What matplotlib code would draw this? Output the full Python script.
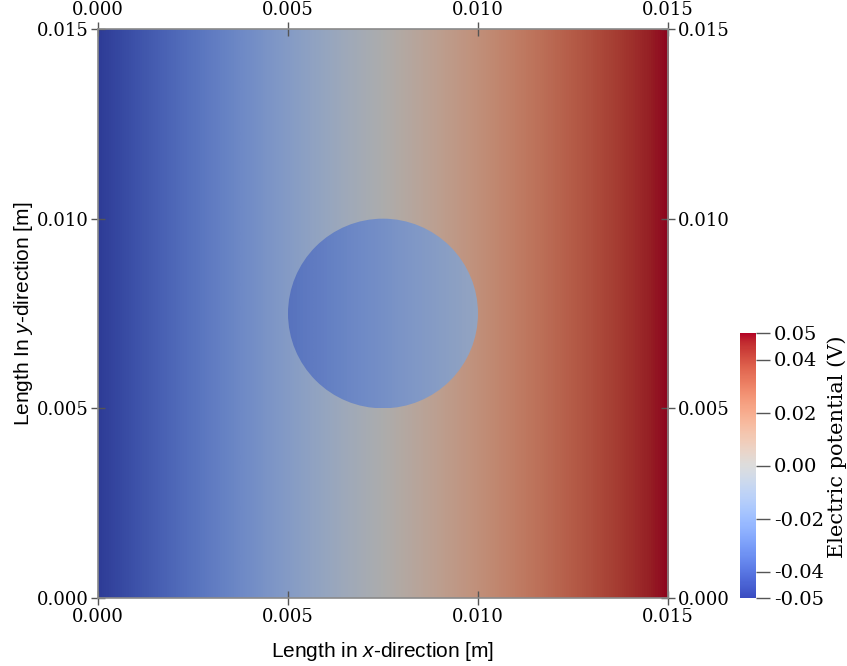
import numpy as np
import matplotlib
matplotlib.use('Agg')
from matplotlib import pyplot as plt
from matplotlib.colors import ListedColormap, Normalize
from matplotlib.cm import ScalarMappable
from matplotlib.patches import Circle

# domain ticks (metres)
AXIS_TICKS = [0.000, 0.005, 0.010, 0.015]

# electric potential across the domain width (constant along y)
field_x = [0.0, 0.0025, 0.005, 0.0075, 0.010, 0.0125, 0.015]
field_v = [-0.05, -0.0333, -0.0167, 0.0, 0.0167, 0.0333, 0.05]

# circular inclusion in the middle of the domain
circle_center = (0.0075, 0.0075)
circle_radius = 0.0025
circle_x = [0.005, 0.0075, 0.010]
circle_v = [-0.033, -0.022, -0.011]

CBAR_TICKS = [-0.05, -0.04, -0.02, 0.00, 0.02, 0.04, 0.05]
V_MIN, V_MAX = -0.05, 0.05

plt.rcParams['font.family'] = ['DejaVu Serif']
plt.rcParams['axes.unicode_minus'] = False
plt.rcParams['mathtext.fontset'] = 'custom'
plt.rcParams['mathtext.rm'] = 'Liberation Sans'
plt.rcParams['mathtext.it'] = 'Liberation Sans:italic'

SPINE_GREY = '#8a8a8a'
TICK_GREY = '#555555'


def band_extent(xs, y0, y1):
    # pixel centres of a 1-row image sit on the sample positions
    dx = xs[1] - xs[0]
    return [xs[0] - dx / 2, xs[-1] + dx / 2, y0, y1]


def run():
    fig = plt.figure(figsize=(8.47, 6.66), dpi=100)
    ax = fig.add_axes([98 / 847, 68 / 666, 570 / 847, 569 / 666])

    norm = Normalize(V_MIN, V_MAX)
    # surface colours are the cool-to-warm map dimmed by scene lighting
    lit = plt.cm.coolwarm(np.linspace(0, 1, 256))
    lit[:, :3] *= 0.78
    litMap = ListedColormap(lit)

    ax.imshow(np.array([field_v]), cmap=litMap, norm=norm,
              extent=band_extent(field_x, 0.0, 0.015), origin='lower',
              aspect='auto', interpolation='bilinear',
              interpolation_stage='data', zorder=1)

    disk = Circle(circle_center, circle_radius, facecolor='none',
                  edgecolor='none', transform=ax.transData)
    ax.add_patch(disk)
    cy0 = circle_center[1] - circle_radius
    cy1 = circle_center[1] + circle_radius
    inner = ax.imshow(np.array([circle_v]), cmap=litMap, norm=norm,
                      extent=band_extent(circle_x, cy0, cy1), origin='lower',
                      aspect='auto', interpolation='bilinear',
                      interpolation_stage='data', zorder=2)
    inner.set_clip_path(disk)

    ax.set_xlim(0, 0.015)
    ax.set_ylim(0, 0.015)
    ax.set_xticks(AXIS_TICKS)
    ax.set_yticks(AXIS_TICKS)
    ax.xaxis.set_major_formatter('{x:.3f}')
    ax.yaxis.set_major_formatter('{x:.3f}')
    ax.tick_params(direction='inout', length=10, width=1, color=TICK_GREY,
                   labelsize=13, pad=2,
                   top=True, right=True, labeltop=True, labelright=True)
    for spine in ax.spines.values():
        spine.set_color(SPINE_GREY)
        spine.set_linewidth(1.2)

    ax.set_xlabel('Length in $x$-direction [m]', family='Liberation Sans',
                  fontsize=15, labelpad=10)
    ax.set_ylabel('Length In $y$-direction [m]', family='Liberation Sans',
                  fontsize=15, labelpad=1)
    ax.xaxis.set_label_position('bottom')
    ax.yaxis.set_label_position('left')

    # colour legend
    cax = fig.add_axes([740 / 847, 68 / 666, 16 / 847, 265 / 666])
    cb = fig.colorbar(ScalarMappable(norm=norm, cmap='coolwarm'), cax=cax,
                      ticks=CBAR_TICKS)
    cb.outline.set_visible(False)
    cax.yaxis.set_major_formatter('{x:.2f}')
    cax.tick_params(length=10, width=1, color=TICK_GREY, labelsize=14, pad=3)
    cb.set_label('Electric potential (V)', fontsize=15, labelpad=2)
    cax.yaxis.label.set_y(0.57)

    fig.savefig('out.png', dpi=100)


if __name__ == '__main__':
    run()
